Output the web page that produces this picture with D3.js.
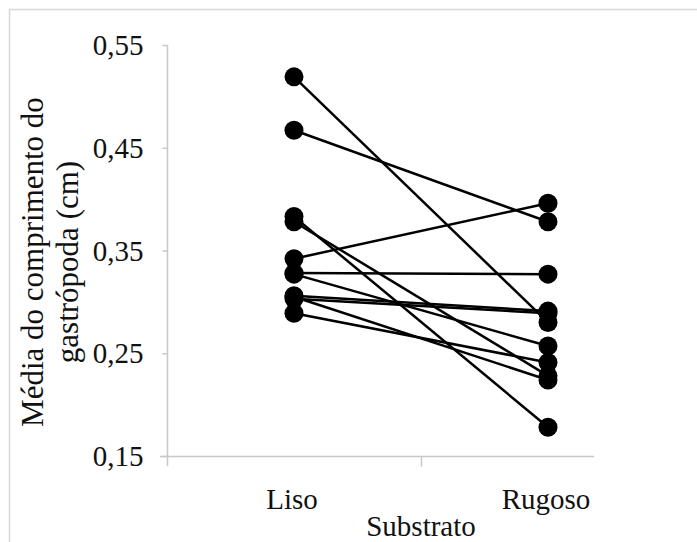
<!DOCTYPE html>
<html>
<head>
<meta charset="utf-8">
<script src="https://cdn.jsdelivr.net/npm/d3@7"></script>
<style>
  body { margin: 0; background: #fff; }
  text { font-family: "Liberation Serif", "Times New Roman", serif; fill: #111; }
</style>
</head>
<body>
<div id="chart"></div>
<script>
// substrate categories
var categories = ["Liso", "Rugoso"];
// mean gastropod length per individual, smooth vs rough
var liso   = [0.519, 0.467, 0.383, 0.378, 0.342, 0.328, 0.327, 0.306, 0.303, 0.305, 0.289];
var rugoso = [0.280, 0.378, 0.178, 0.228, 0.396, 0.327, 0.257, 0.291, 0.289, 0.224, 0.241];
var yTicks = [0.15, 0.25, 0.35, 0.45, 0.55];

var width = 697, height = 542;

var svg = d3.select("#chart").append("svg")
  .attr("width", width)
  .attr("height", height);

// frame (only top and left show in the picture)
svg.append("path")
  .attr("d", "M9.5," + height + "V9.5H" + width)
  .attr("fill", "none")
  .attr("stroke", "#d9d9d9")
  .attr("stroke-width", 1.5);

var x = d3.scaleBand().domain(categories).range([167, 675]);
var y = d3.scaleLinear().domain([0.15, 0.55]).range([456, 45]);
var fmt = function(d) { return d3.format(".2f")(d).replace(".", ","); };

// y axis
var gy = svg.append("g")
  .attr("transform", "translate(167.5,0)")
  .call(d3.axisLeft(y).tickValues(yTicks).tickSize(5).tickSizeOuter(0).tickFormat(fmt));
gy.select(".domain").attr("d", "M0," + y(0.55) + "V466").attr("stroke", "#c8c8c8").attr("stroke-width", 1.5);
gy.selectAll(".tick line").attr("stroke", "#c8c8c8").attr("stroke-width", 1.5);
gy.selectAll(".tick text")
  .attr("x", -24)
  .attr("dy", "0.33em")
  .style("font-size", "29px")
  .attr("fill", "#111");

// x axis: ticks at band edges, labels at band centres
var gx = svg.append("g")
  .attr("transform", "translate(0," + (y(0.15) + 0.5) + ")");
gx.append("path")
  .attr("d", "M160,0H594")
  .attr("stroke", "#c8c8c8")
  .attr("stroke-width", 1.5);
gx.selectAll("line.tk").data(categories.slice(1))
  .enter().append("line")
  .attr("class", "tk")
  .attr("x1", function(d) { return x(d) + 0.5; })
  .attr("x2", function(d) { return x(d) + 0.5; })
  .attr("y1", 0).attr("y2", 10)
  .attr("stroke", "#c8c8c8")
  .attr("stroke-width", 1.5);
gx.selectAll("text").data(categories)
  .enter().append("text")
  .attr("x", function(d) { return x(d) + x.bandwidth() / 2 - 2; })
  .attr("y", 52)
  .attr("text-anchor", "middle")
  .style("font-size", "29px")
  .text(function(d) { return d; });

svg.append("text")
  .attr("x", 421)
  .attr("y", 536)
  .attr("text-anchor", "middle")
  .style("font-size", "29px")
  .text("Substrato");

// y title, two lines
var yt = svg.append("text")
  .attr("transform", "translate(0,262) rotate(-90)")
  .attr("text-anchor", "middle")
  .style("font-size", "31px");
yt.append("tspan").attr("x", 0).attr("y", 43).text("Média do comprimento do");
yt.append("tspan").attr("x", 0).attr("y", 78).text("gastrópoda (cm)");

// paired lines
var cx = function(c) { return x(c) + x.bandwidth() / 2; };
var pairs = liso.map(function(v, i) { return [v, rugoso[i]]; });

svg.append("g").selectAll("line").data(pairs)
  .enter().append("line")
  .attr("x1", cx("Liso"))
  .attr("x2", cx("Rugoso"))
  .attr("y1", function(d) { return y(d[0]); })
  .attr("y2", function(d) { return y(d[1]); })
  .attr("stroke", "#000")
  .attr("stroke-width", 2.5);

var dots = svg.append("g");
dots.selectAll("circle.l").data(liso)
  .enter().append("circle")
  .attr("class", "l")
  .attr("cx", cx("Liso"))
  .attr("cy", function(d) { return y(d); })
  .attr("r", 9.5)
  .attr("fill", "#000");
dots.selectAll("circle.r").data(rugoso)
  .enter().append("circle")
  .attr("class", "r")
  .attr("cx", cx("Rugoso"))
  .attr("cy", function(d) { return y(d); })
  .attr("r", 9.5)
  .attr("fill", "#000");
</script>
</body>
</html>
